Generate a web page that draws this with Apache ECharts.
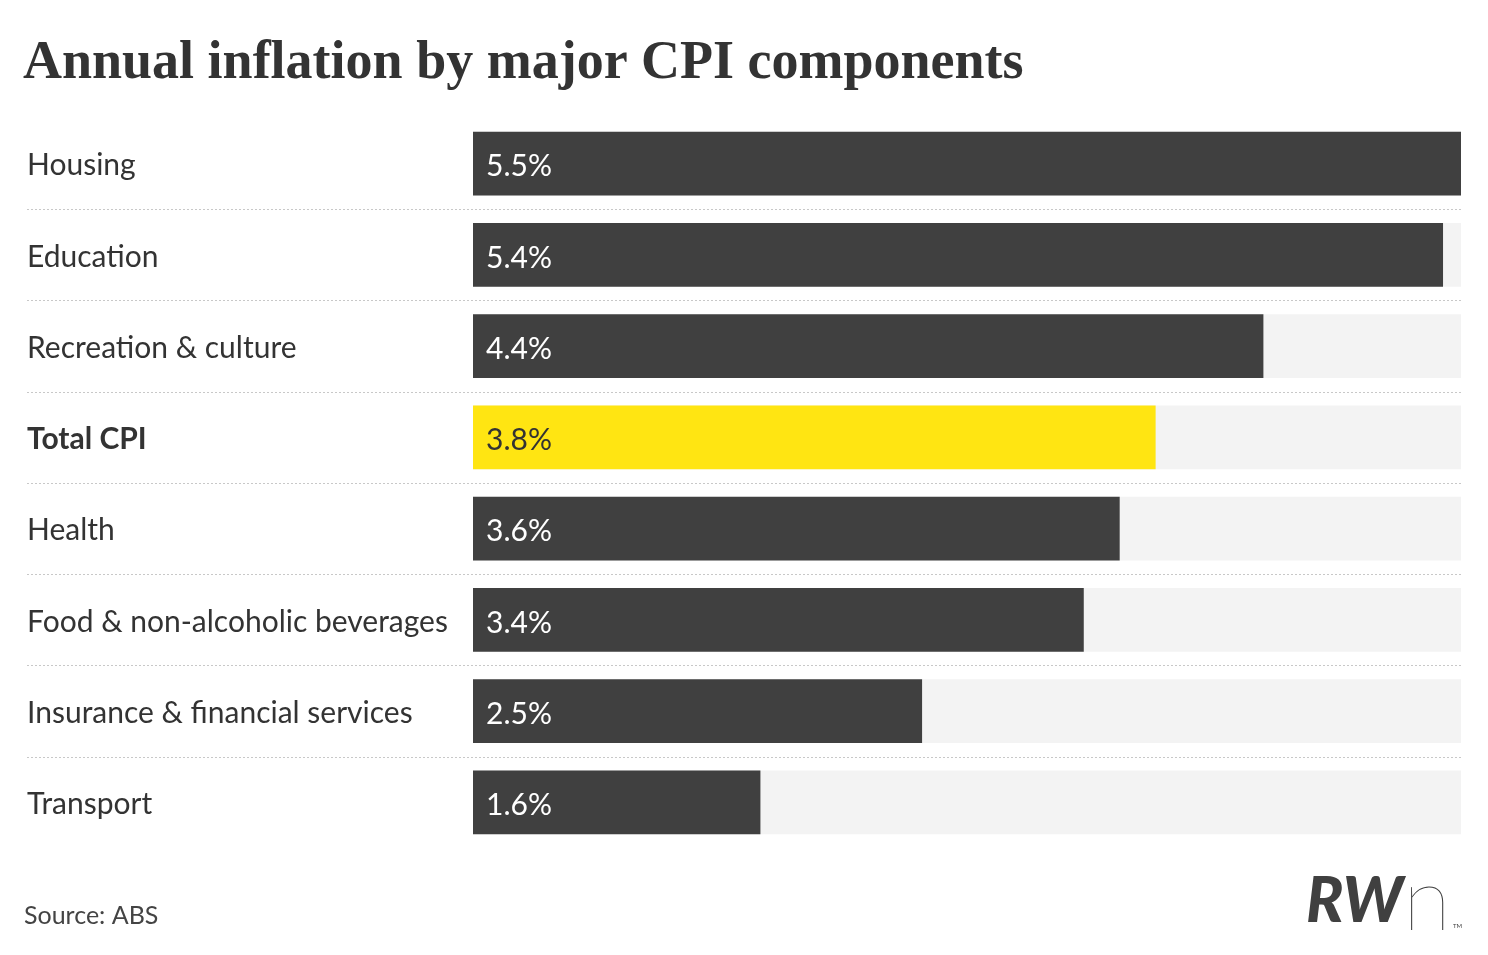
<!DOCTYPE html>
<html>
<head>
<meta charset="utf-8">
<title>Annual inflation by major CPI components</title>
<script src="https://cdn.jsdelivr.net/npm/echarts@6/dist/echarts.min.js"></script>
<style>
  html, body { margin: 0; padding: 0; background: #fff; }
  #chart { width: 1488px; height: 955px; }
</style>
</head>
<body>
<div id="chart"></div>
<script>
// data
var categories = ["Housing", "Education", "Recreation & culture", "Total CPI", "Health",
                  "Food & non-alcoholic beverages", "Insurance & financial services", "Transport"];
var inflation = [5.5, 5.4, 4.4, 3.8, 3.6, 3.4, 2.5, 1.6];
var highlight = "Total CPI";
var xMax = 5.5;

// layout: bars start at x=473, plot spans 27..1461
var gridLeft = 27, gridRight = 27, barStart = 473;
var plotW = 1488 - gridLeft - gridRight;
var frac = (barStart - gridLeft) / plotW;
var xMin = -frac * xMax / (1 - frac);

var dark = "#404040", yellow = "#ffe512", track = "#f3f3f3", ink = "#333333";

var chart = echarts.init(document.getElementById("chart"));

var barData = [];
var trackData = [];
for (var i = 0; i < categories.length; ++i) {
    var isHi = categories[i] == highlight;
    barData.push({
        value: inflation[i],
        itemStyle: { color: isHi ? yellow : dark },
        label: { color: isHi ? ink : "#ffffff" }
    });
    trackData.push(xMax);
}

var option = {
    backgroundColor: "#ffffff",
    animation: false,
    title: {
        text: "Annual inflation by major CPI components",
        left: 18,
        top: 32,
        textStyle: {
            fontFamily: "Liberation Serif",
            fontWeight: "bold",
            fontSize: 54,
            color: ink
        }
    },
    grid: { left: gridLeft, right: gridRight, top: 118, bottom: 107 },
    xAxis: {
        type: "value",
        min: xMin,
        max: xMax,
        show: false
    },
    yAxis: {
        type: "category",
        data: categories,
        inverse: true,
        axisLine: { show: false, onZero: false },
        axisTick: { show: false },
        splitLine: {
            show: true,
            showMinLine: false,
            showMaxLine: false,
            lineStyle: { color: "#c8c8c8", type: [2, 2], width: 1 }
        },
        axisLabel: {
            align: "left",
            margin: 0,
            padding: [4, 0, 0, 0],
            fontFamily: "Lato",
            fontSize: 30,
            color: ink,
            formatter: function (v) {
                return v == highlight ? "{b|" + v + "}" : v;
            },
            rich: {
                b: { fontFamily: "Lato", fontSize: 30, fontWeight: "bold", color: ink }
            }
        }
    },
    series: [
        {
            name: "track",
            type: "bar",
            data: trackData,
            silent: true,
            barCategoryGap: "30%",
            barGap: "-100%",
            itemStyle: { color: track },
            z: 1
        },
        {
            name: "Annual inflation",
            type: "bar",
            data: barData,
            barCategoryGap: "30%",
            z: 2,
            label: {
                show: true,
                position: "insideLeft",
                distance: 13,
                offset: [0, 3],
                fontFamily: "Lato",
                fontSize: 30,
                formatter: function (p) { return p.value.toFixed(1) + "%"; }
            }
        }
    ],
    graphic: [
        {
            type: "text",
            left: 24,
            top: 903,
            style: { text: "Source: ABS", font: "25px Lato", fill: "#444444" }
        },
        {
            type: "text",
            left: 1306,
            top: 858,
            style: {
                text: "{a|RW}{n|n}",
                rich: {
                    a: { fontFamily: "Lato", fontSize: 62, fontWeight: 900, fontStyle: "italic", fill: dark, color: dark },
                    n: { fontFamily: "Lato", fontSize: 88, fontWeight: 100, fill: dark, color: dark }
                }
            }
        },
        {
            type: "text",
            left: 1453,
            top: 923,
            style: { text: "TM", font: "6px Lato", fill: dark }
        }
    ]
};

chart.setOption(option);
</script>
</body>
</html>
